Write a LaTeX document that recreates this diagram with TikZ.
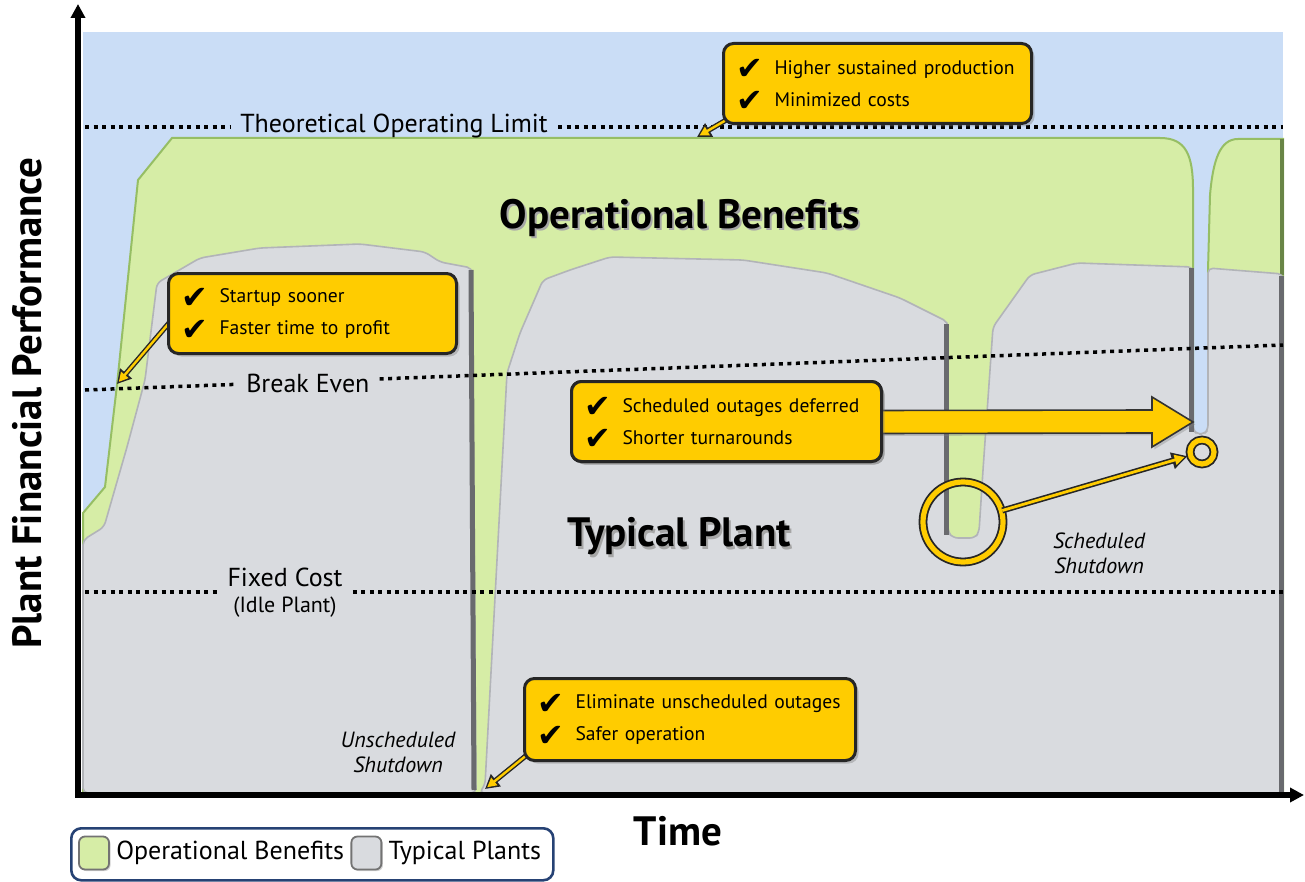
\documentclass[tikz,border=0pt]{standalone}
\usepackage{fontspec}
\setmainfont{PT Sans}
\newfontfamily\symfont{DejaVu Sans}
\usetikzlibrary{arrows.meta,shadows,calc}

\definecolor{skyblue}{RGB}{202,221,246}
\definecolor{benefitgreen}{RGB}{214,237,166}
\definecolor{benefitedge}{RGB}{150,190,100}
\definecolor{plantgray}{RGB}{217,219,223}
\definecolor{plantline}{RGB}{178,180,184}
\definecolor{plantedge}{RGB}{105,106,110}
\definecolor{callyellow}{RGB}{255,204,0}
\definecolor{legendblue}{RGB}{38,66,116}

% heavy check mark used in the callouts
\newcommand{\ckmark}{\makebox[19pt][l]{\smash{\raisebox{-2.8pt}{\symfont\fontsize{16}{16}\selectfont ✔}}}}

\begin{document}
\begin{tikzpicture}[x=0.5pt,y=-0.5pt,
  dotline/.style={line width=1.75pt, dash pattern=on 2pt off 2.25pt},
  plantfill/.style={fill=plantgray, draw=plantline, line width=0.8pt, rounded corners=2.5pt},
  benefitfill/.style={fill=benefitgreen, draw=benefitedge, line width=1pt},
  plantedgeline/.style={draw=plantedge, line width=2.5pt},
  callbox/.style={draw=black!85, line width=1.5pt, fill=callyellow, rounded corners=5pt,
    anchor=north west, inner xsep=6.5pt, inner ysep=0pt, minimum height=40pt, align=left,
    font=\fontsize{9.8}{16}\selectfont,
    drop shadow={shadow xshift=1.5pt, shadow yshift=-1.5pt, opacity=0.4}},
  arrowout/.style={draw=black!85, line width=2.6pt, -{Triangle[length=7pt,width=7.5pt]}},
  arrowin/.style={draw=callyellow, line width=1.2pt, shorten >=1.4pt, -{Triangle[length=4.6pt,width=4.6pt]}},
  ring/.style={circle, draw=black!85, line width=0.9pt, double=callyellow, double distance=2.6pt, inner sep=0pt},
  levlabel/.style={font=\fontsize{13}{13}\selectfont, inner xsep=5pt, inner ysep=1pt},
  bigtitle/.style={font=\bfseries\fontsize{20.5}{20.5}\selectfont},
  axislabel/.style={font=\bfseries\fontsize{20.5}{20.5}\selectfont},
  shutlabel/.style={align=center, font=\itshape\fontsize{11}{12.5}\selectfont},
  axisline/.style={line width=2.6pt, -{Triangle[length=7pt,width=7pt]}},
  swatch/.style={draw=black!55, line width=0.9pt, rounded corners=3pt, minimum width=15pt, minimum height=16.5pt, inner sep=0pt,
    drop shadow={shadow xshift=0.8pt, shadow yshift=-0.8pt, opacity=0.35}},
  legtext/.style={font=\fontsize{13}{13}\selectfont, inner xsep=3pt}
]
\path[use as bounding box] (0,0) rectangle (1305,882);

% sky background of the plot area
\fill[skyblue] (83,32) rectangle (1283,795);

% operational benefits region
\path[benefitfill] (83,513) -- (105,487) -- (117,385) -- (138,180) -- (172,138) -- (1160,138)
  .. controls (1186,138) and (1193,155) .. (1193,190) -- (1193,795) -- (83,795) -- cycle;
\path[benefitfill] (1208,795) -- (1208,270) -- (1210,195)
  .. controls (1213,160) and (1220,139) .. (1238,139) -- (1283,139) -- (1283,795) -- cycle;
\draw[benefitedge!70!black, line width=1.6pt] (1282,139) -- (1282,275);

% typical plant regions
\path[plantfill] (83,540) -- (104,527) -- (127,447) -- (145,380) -- (157,283) -- (200,258) -- (260,248)
  -- (360,244) -- (425,252) -- (440,262) -- (472,268) -- (476,793) -- (83,793) -- cycle;
\path[plantfill] (479,793) -- (485,785) -- (497,560) -- (507,373) -- (520,333) -- (543,280) -- (570,270)
  -- (610,257) -- (743,260) -- (827,273) -- (900,298) -- (948,322) -- (948,532) -- (953,538) -- (975,538)
  -- (979,532) -- (983,470) -- (993,327) -- (1030,275) -- (1077,263) -- (1193,267) -- (1193,430)
  -- (1197,434) -- (1204,434) -- (1208,430) -- (1208,268) -- (1283,274) -- (1283,793) -- cycle;

% dark trailing edges of the plant regions
\draw[plantedgeline] (471,270) -- (474,790);
\draw[plantedgeline] (946,324) -- (946,535);
\draw[plantedgeline] (1191,268) -- (1191,432);
\draw[plantedgeline] (1281,276) -- (1281,793);

% theoretical operating limit
\coordinate (tolL) at (85,127);
\coordinate (tolR) at (1283,127);
\node[levlabel, anchor=base] (tol) at (394,133) {Theoretical Operating Limit};
\draw[dotline] (tolL) -- (tolL -| tol.west);
\draw[dotline] (tol.east |- tolR) -- (tolR);

% break even
\coordinate (beL) at (85,390);
\coordinate (beR) at (1283,345);
\node[levlabel] (be) at ($(beL)!0.186!(beR)+(0,2)$) {Break Even};
\draw[dotline] (beL) -- ($(beL)!(be.west)!(beR)$);
\draw[dotline] ($(beL)!(be.east)!(beR)$) -- (beR);

% fixed cost
\coordinate (fcL) at (85,592);
\coordinate (fcR) at (1283,592);
\node[align=center, inner xsep=5pt, font=\fontsize{13}{13}\selectfont] (fc) at (285,593)
  {Fixed Cost\\{\fontsize{11}{13}\selectfont (Idle Plant)}};
\draw[dotline] (fcL) -- (fcL -| fc.west);
\draw[dotline] (fc.east |- fcR) -- (fcR);

% region titles with soft shadow
\node[bigtitle, anchor=base, text=black!35] at (682,231) {Operational Benefits};
\node[bigtitle, anchor=base] (obt) at (680,228) {Operational Benefits};
\node[bigtitle, anchor=base, text=black!35] at (681,549) {Typical Plant};
\node[bigtitle, anchor=base] (tpt) at (679,546) {Typical Plant};

% shutdown labels
\node[shutlabel] (uss) at (398,752) {Unscheduled\\Shutdown};
\node[shutlabel] (sss) at (1099,553) {Scheduled\\Shutdown};

% deferred outage block arrow
\node[callbox, text width=142pt] (b3) at (570,380) {\ckmark Scheduled outages deferred\\\ckmark Shorter turnarounds};
\coordinate (bigtip) at (1193,422);
\draw[fill=callyellow, draw=black!80, line width=0.8pt, drop shadow={shadow xshift=1.2pt, shadow yshift=-1.2pt, opacity=0.35}]
  ($(b3.east)+(-8,-11)$) -- (1152,410) -- (1152,397) -- (bigtip) -- (1152,447) -- (1152,433)
  -- ($(b3.east)+(-8,12)$) -- cycle;
\node[callbox, text width=142pt] at (570,380) {\ckmark Scheduled outages deferred\\\ckmark Shorter turnarounds};

% rings marking the shutdowns
\node[ring, minimum size=40pt] (bigring) at (963,522) {};
\node[ring, minimum size=12pt] (smallring) at (1202,452) {};
\draw[draw=black!85, line width=3pt, -{Triangle[length=8pt,width=8pt]}, shorten >=1pt] (bigring) -- (smallring);
\draw[draw=callyellow, line width=1.4pt, shorten >=2.6pt, -{Triangle[length=5pt,width=5pt]}] (bigring) -- (smallring);

% callout pointers
\coordinate (a1s) at (175,316);
\coordinate (a1t) at (117,384);
\coordinate (a2s) at (740,112);
\coordinate (a2t) at (697,137);
\coordinate (a4s) at (533,750);
\coordinate (a4t) at (485,789);
\draw[arrowout] (a1s) -- (a1t);
\draw[arrowin] (a1s) -- (a1t);
\draw[arrowout] (a2s) -- (a2t);
\draw[arrowin] (a2s) -- (a2t);
\draw[arrowout] (a4s) -- (a4t);
\draw[arrowin] (a4s) -- (a4t);

% callouts
\node[callbox, text width=131pt] (b1) at (167,272) {\ckmark Startup sooner\\\ckmark Faster time to profit};
\node[callbox, text width=141pt] (b2) at (722,42) {\ckmark Higher sustained production\\\ckmark Minimized costs};
\node[callbox, text width=152.5pt, minimum height=41pt] (b4) at (523,677) {\ckmark Eliminate unscheduled outages\\\ckmark Safer operation};

% axes
\coordinate (origin) at (75,795);
\coordinate (ytop) at (78,4);
\coordinate (xend) at (1304,795);
\draw[axisline] (78,797) -- (ytop);
\draw[axisline] (origin) -- (xend);

% axis titles
\node[axislabel, rotate=90] (ylab) at (27,403) {Plant Financial Performance};
\node[axislabel, anchor=base] (xlab) at (678,845) {Time};

% legend
\node[draw=legendblue, line width=1.3pt, rounded corners=5pt, anchor=north west, minimum width=241pt, minimum height=26pt] (legend) at (70,827) {};
\node[swatch, fill=benefitgreen] (sw1) at (94,853) {};
\node[legtext, anchor=west] (lt1) at (sw1.east) {Operational Benefits};
\node[swatch, fill=plantgray, anchor=west] (sw2) at (lt1.east) {};
\node[legtext, anchor=west] (lt2) at (sw2.east) {Typical Plants};
\end{tikzpicture}
\end{document}
